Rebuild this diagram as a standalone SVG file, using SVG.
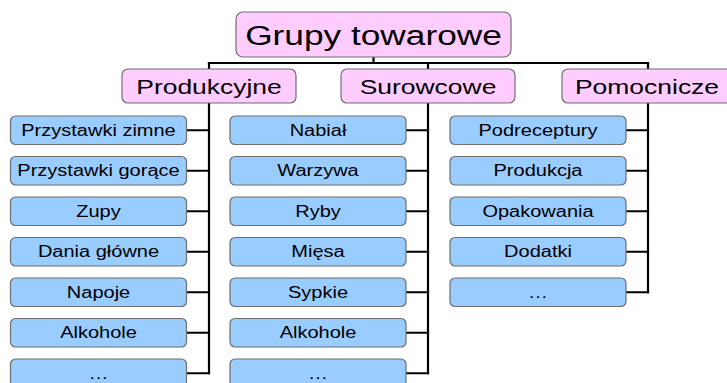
<svg xmlns="http://www.w3.org/2000/svg" width="727" height="383" viewBox="0 0 727 383">
  <style>
    .bg { fill: #ffffff; }
    .wire { stroke: #000000; stroke-width: 2.2; fill: none; stroke-linecap: square; }
    .pink { fill: #ffccff; stroke: #6e6e6e; stroke-width: 1.2; }
    .blue { fill: #99ccff; stroke: #6e6e6e; stroke-width: 1.2; }
    text { font-family: "Liberation Sans", Arial, sans-serif; fill: #000000; text-anchor: middle; }
    .t0 { font-size: 28px; }
    .t1 { font-size: 21px; }
    .t2 { font-size: 16px; }
  </style>
  <rect class="bg" x="0" y="0" width="727" height="383"/>

  <g id="connectors">
    <!-- root to category bar -->
    <path class="wire" d="M373.5 57 V63 M209 63 H648"/>
    <!-- category buses -->
    <path class="wire" d="M209 63 V373.25 M428 63 V373.25 M648 63 V292.25"/>
    <!-- stubs, column 1 -->
    <path class="wire" d="M186.5 130.25 H209 M186.5 170.75 H209 M186.5 211.25 H209 M186.5 251.75 H209 M186.5 292.25 H209 M186.5 332.75 H209 M186.5 373.25 H209"/>
    <!-- stubs, column 2 -->
    <path class="wire" d="M406 130.25 H428 M406 170.75 H428 M406 211.25 H428 M406 251.75 H428 M406 292.25 H428 M406 332.75 H428 M406 373.25 H428"/>
    <!-- stubs, column 3 -->
    <path class="wire" d="M626 130.25 H648 M626 170.75 H648 M626 211.25 H648 M626 251.75 H648 M626 292.25 H648"/>
  </g>

  <g id="root">
    <rect class="pink" x="236" y="12" width="275" height="45" rx="7"/>
    <text class="t0" transform="translate(373.5 45) scale(1.26 1)">Grupy towarowe</text>
  </g>

  <g id="produkcyjne">
    <rect class="pink" x="122" y="69" width="174" height="34" rx="6"/>
    <text class="t1" transform="translate(209 94) scale(1.26 1)">Produkcyjne</text>
  </g>
  <g id="surowcowe">
    <rect class="pink" x="341" y="69" width="174" height="34" rx="6"/>
    <text class="t1" transform="translate(428 94) scale(1.26 1)">Surowcowe</text>
  </g>
  <g id="pomocnicze">
    <rect class="pink" x="562" y="69" width="174" height="34" rx="6"/>
    <text class="t1" transform="translate(647 94) scale(1.26 1)">Pomocnicze</text>
  </g>

  <!-- column 1 -->
  <g id="p1"><rect class="blue" x="10.5" y="116" width="176" height="28.5" rx="5"/><text class="t2" transform="translate(98.5 135.75) scale(1.25 1)">Przystawki zimne</text></g>
  <g id="p2"><rect class="blue" x="10.5" y="156.5" width="176" height="28.5" rx="5"/><text class="t2" transform="translate(98.5 176.25) scale(1.25 1)">Przystawki gorące</text></g>
  <g id="p3"><rect class="blue" x="10.5" y="197" width="176" height="28.5" rx="5"/><text class="t2" transform="translate(98.5 216.75) scale(1.25 1)">Zupy</text></g>
  <g id="p4"><rect class="blue" x="10.5" y="237.5" width="176" height="28.5" rx="5"/><text class="t2" transform="translate(98.5 257.25) scale(1.25 1)">Dania główne</text></g>
  <g id="p5"><rect class="blue" x="10.5" y="278" width="176" height="28.5" rx="5"/><text class="t2" transform="translate(98.5 297.75) scale(1.25 1)">Napoje</text></g>
  <g id="p6"><rect class="blue" x="10.5" y="318.5" width="176" height="28.5" rx="5"/><text class="t2" transform="translate(98.5 338.25) scale(1.25 1)">Alkohole</text></g>
  <g id="p7"><rect class="blue" x="10.5" y="359" width="176" height="28.5" rx="5"/><text class="t2" transform="translate(98.5 378.75) scale(1.25 1)">…</text></g>

  <!-- column 2 -->
  <g id="s1"><rect class="blue" x="230" y="116" width="176" height="28.5" rx="5"/><text class="t2" transform="translate(318 135.75) scale(1.25 1)">Nabiał</text></g>
  <g id="s2"><rect class="blue" x="230" y="156.5" width="176" height="28.5" rx="5"/><text class="t2" transform="translate(318 176.25) scale(1.25 1)">Warzywa</text></g>
  <g id="s3"><rect class="blue" x="230" y="197" width="176" height="28.5" rx="5"/><text class="t2" transform="translate(318 216.75) scale(1.25 1)">Ryby</text></g>
  <g id="s4"><rect class="blue" x="230" y="237.5" width="176" height="28.5" rx="5"/><text class="t2" transform="translate(318 257.25) scale(1.25 1)">Mięsa</text></g>
  <g id="s5"><rect class="blue" x="230" y="278" width="176" height="28.5" rx="5"/><text class="t2" transform="translate(318 297.75) scale(1.25 1)">Sypkie</text></g>
  <g id="s6"><rect class="blue" x="230" y="318.5" width="176" height="28.5" rx="5"/><text class="t2" transform="translate(318 338.25) scale(1.25 1)">Alkohole</text></g>
  <g id="s7"><rect class="blue" x="230" y="359" width="176" height="28.5" rx="5"/><text class="t2" transform="translate(318 378.75) scale(1.25 1)">…</text></g>

  <!-- column 3 -->
  <g id="m1"><rect class="blue" x="450" y="116" width="176" height="28.5" rx="5"/><text class="t2" transform="translate(538 135.75) scale(1.25 1)">Podreceptury</text></g>
  <g id="m2"><rect class="blue" x="450" y="156.5" width="176" height="28.5" rx="5"/><text class="t2" transform="translate(538 176.25) scale(1.25 1)">Produkcja</text></g>
  <g id="m3"><rect class="blue" x="450" y="197" width="176" height="28.5" rx="5"/><text class="t2" transform="translate(538 216.75) scale(1.25 1)">Opakowania</text></g>
  <g id="m4"><rect class="blue" x="450" y="237.5" width="176" height="28.5" rx="5"/><text class="t2" transform="translate(538 257.25) scale(1.25 1)">Dodatki</text></g>
  <g id="m5"><rect class="blue" x="450" y="278" width="176" height="28.5" rx="5"/><text class="t2" transform="translate(538 297.75) scale(1.25 1)">…</text></g>
</svg>
